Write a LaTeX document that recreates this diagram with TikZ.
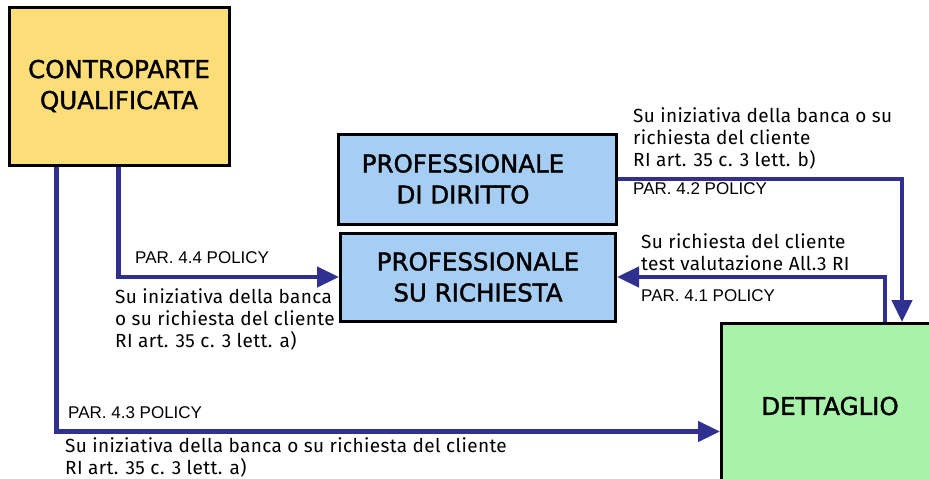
\documentclass[tikz,border=0pt]{standalone}
\usepackage{fontspec}
\setmainfont{Fira Sans}
\newfontfamily\notef{Fira Sans}[LetterSpace=2]
\newfontfamily\arialf{Liberation Sans}
\newfontfamily\boxf{DejaVu Sans}[FakeBold=1.5]
\usetikzlibrary{arrows.meta,calc}
\definecolor{cqyellow}{HTML}{FCDD78}
\definecolor{pblue}{HTML}{A6CDF3}
\definecolor{dgreen}{HTML}{A9F2A9}
\definecolor{arrblue}{HTML}{303090}
\begin{document}
\begin{tikzpicture}[x=1pt,y=-1pt,
  boxnode/.style={draw=black,line width=3pt,inner sep=0pt,align=center,
    font=\boxf\fontsize{24.5}{31}\selectfont},
  boxtext/.style={inner sep=0pt,align=center,font=\boxf\fontsize{24.5}{31}\selectfont},
  arr/.style={draw=arrblue,line width=4.5pt,-{Triangle[length=22pt,width=20pt]}},
  note/.style={inner sep=0pt,anchor=north west,align=left,
    font=\notef\fontsize{19}{22}\selectfont},
  par/.style={inner sep=0pt,anchor=north west,
    font=\arialf\fontsize{17}{20}\selectfont}]
\useasboundingbox (0,0) rectangle (929,479);
\fill[white] (0,0) rectangle (929,479);
\begin{scope}
\clip (0,0) rectangle (929,479);
\node[boxnode,fill=cqyellow,minimum width=220pt,minimum height=158pt] (cq) at (119,86) {CONTROPARTE\\QUALIFICATA};
\node[boxnode,fill=pblue,minimum width=278pt,minimum height=90pt] (pd) at (477,179) {};
\node[boxtext] (pdt) at ($(pd.center)+(-14pt,0)$) {PROFESSIONALE\\DI DIRITTO};
\node[boxnode,fill=pblue,minimum width=275pt,minimum height=88pt] (ps) at (478,277) {PROFESSIONALE\\SU RICHIESTA};
\node[boxnode,fill=dgreen,minimum width=240pt,minimum height=200pt,anchor=north west] (det) at (720,322) {};
\node[boxtext] (dett) at (830,406) {DETTAGLIO};

\draw[arr] ([xshift=49pt]cq.south west) |- ([yshift=-8pt]det.west);
\draw[arr] ([xshift=111pt]cq.south west) |- (ps.west);
\draw[arr] (pd.east) -| ([xshift=182pt]det.north west);
\draw[arr] ([xshift=165pt]det.north west) |- (ps.east);
\end{scope}

\node[note] (n1) at (633,107) {Su iniziativa della banca o su\\richiesta del cliente\\RI art. 35 c. 3 lett. b)};
\node[par] (p42) at (633,182) {PAR. 4.2 POLICY};
\node[note] (n2) at (641,233) {Su richiesta del cliente\\test valutazione All.3 RI};
\node[par] (p41) at (641,289) {PAR. 4.1 POLICY};
\node[par] (p44) at (135,251) {PAR. 4.4 POLICY};
\node[note] (n3) at (115,288) {Su iniziativa della banca\\o su richiesta del cliente\\RI art. 35 c. 3 lett. a)};
\node[par] (p43) at (68,406) {PAR. 4.3 POLICY};
\node[note] (n4) at (65,437) {Su iniziativa della banca o su richiesta del cliente\\RI art. 35 c. 3 lett. a)};
\end{tikzpicture}
\end{document}
